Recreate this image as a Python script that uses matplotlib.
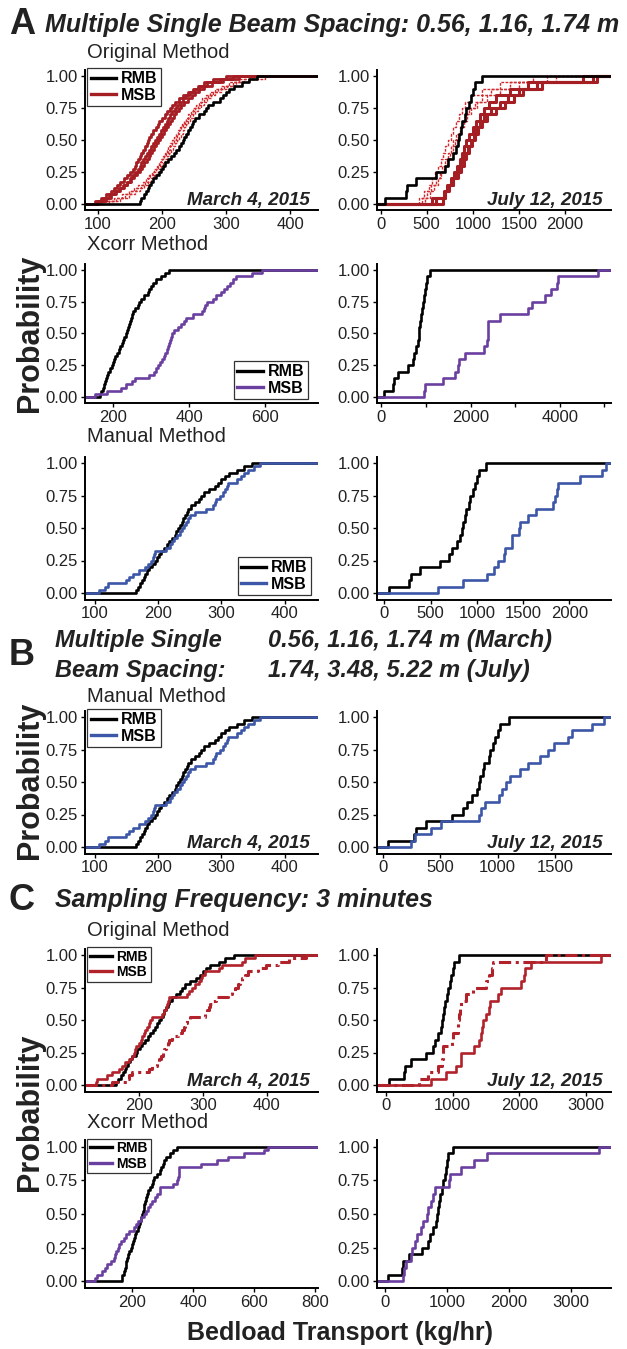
import numpy as np
import matplotlib.pyplot as plt

plt.rcParams['font.family'] = ['Liberation Sans', 'DejaVu Sans']

# ---- data ----
# reference (RMB) samples, same in every panel
rmb_march = [165, 168, 172, 175, 178, 180, 183, 186, 190, 195, 198, 202, 205, 210, 214, 218,
             222, 226, 229, 232, 235, 238, 240, 243, 246, 248, 252, 258, 265, 268, 272, 280,
             290, 295, 300, 305, 312, 325, 335, 348]
rmb_july = [50, 270, 290, 380, 600, 700, 730, 780, 820, 840, 850, 870, 880, 920, 930, 960,
            980, 1000, 1020, 1100]

# A - original method, several beam spacings
orig_march_solid = [
    [95, 105, 112, 120, 125, 130, 135, 140, 145, 150, 155, 158, 160, 163, 166, 168, 170, 173,
     176, 178, 180, 183, 186, 190, 193, 196, 200, 204, 208, 212, 216, 220, 226, 232, 240, 248,
     256, 265, 280, 300],
    [100, 112, 120, 128, 134, 140, 145, 150, 154, 158, 162, 165, 168, 171, 174, 177, 180, 183,
     186, 189, 192, 195, 198, 201, 204, 207, 210, 213, 216, 220, 224, 228, 233, 238, 244, 250,
     258, 270, 290, 320],
    [98, 108, 118, 126, 133, 139, 146, 152, 157, 161, 165, 169, 172, 176, 179, 182, 185, 188,
     191, 194, 197, 200, 203, 206, 209, 212, 215, 218, 222, 226, 230, 235, 240, 246, 252, 258,
     266, 278, 295, 310],
]
orig_march_dot = [
    [110, 125, 138, 148, 156, 163, 170, 175, 180, 184, 188, 192, 195, 198, 201, 204, 207, 210,
     213, 216, 219, 222, 225, 228, 231, 234, 237, 241, 245, 249, 253, 258, 263, 268, 274, 282,
     292, 305, 320, 340],
    [118, 135, 148, 158, 166, 172, 178, 183, 188, 192, 196, 199, 202, 205, 208, 211, 214, 217,
     220, 223, 226, 229, 232, 235, 238, 241, 244, 248, 252, 256, 260, 265, 270, 276, 283, 292,
     302, 315, 335, 360],
    [105, 128, 142, 152, 160, 167, 173, 178, 182, 186, 190, 194, 197, 200, 203, 206, 209, 212,
     215, 218, 221, 224, 227, 230, 233, 236, 240, 244, 248, 252, 256, 261, 266, 272, 279, 287,
     297, 310, 328, 350],
]
orig_july_solid = [
    [560, 700, 720, 760, 800, 830, 860, 880, 900, 930, 960, 1000, 1040, 1080, 1120, 1180, 1250,
     1400, 1600, 2200],
    [600, 690, 740, 790, 840, 870, 900, 930, 960, 990, 1020, 1060, 1100, 1150, 1250, 1350, 1450,
     1550, 1750, 2350],
    [680, 700, 730, 780, 820, 860, 890, 920, 950, 980, 1010, 1040, 1080, 1120, 1200, 1300, 1380,
     1500, 1700, 2300],
]
orig_july_dot = [
    [420, 470, 520, 560, 590, 620, 650, 680, 700, 730, 760, 790, 820, 850, 880, 920, 980, 1100,
     1300, 1650],
    [480, 530, 580, 620, 660, 690, 720, 750, 780, 810, 840, 870, 900, 940, 980, 1050, 1150, 1300,
     1500, 1900],
    [450, 500, 550, 600, 640, 670, 700, 730, 760, 790, 820, 860, 880, 910, 960, 1020, 1100, 1200,
     1400, 1800],
]

# A - xcorr method
xcorr_march = [152, 184, 221, 232, 250, 258, 295, 308, 312, 318, 322, 328, 333, 337, 341, 344,
               347, 350, 352, 355, 360, 370, 378, 385, 392, 411, 435, 440, 443, 447, 462, 470,
               483, 491, 500, 507, 515, 523, 565, 592]
xcorr_july = [950, 970, 1390, 1650, 1720, 1740, 1880, 2290, 2370, 2380, 2390, 2400, 2660, 3290,
              3370, 3680, 3800, 3940, 3960, 4850]

# A / B - manual method
manual_march = [107, 116, 121, 149, 155, 161, 170, 179, 185, 189, 192, 194, 195, 213, 219, 222,
                225, 230, 234, 238, 241, 244, 247, 250, 259, 275, 287, 290, 292, 298, 302, 305,
                308, 311, 324, 330, 336, 342, 351, 361]
manual_july = [583, 849, 1110, 1180, 1224, 1290, 1300, 1379, 1385, 1460, 1470, 1550, 1640, 1820,
               1843, 1865, 1880, 2110, 2350, 2400]
manual_july_b = [245, 280, 420, 508, 840, 858, 893, 1015, 1033, 1068, 1103, 1190, 1260, 1365,
                 1435, 1488, 1610, 1645, 1820, 1925]

# C - 3 minute sampling
c_orig_march_solid = [133, 135, 151, 158, 169, 174, 179, 184, 190, 192, 194, 196, 200, 203, 205,
                      208, 210, 213, 216, 218, 221, 236, 240, 242, 244, 245, 247, 275, 278, 283,
                      288, 294, 297, 299, 304, 325, 330, 361, 366, 382]
c_orig_march_dash = [158, 182, 184, 190, 216, 220, 228, 232, 235, 238, 240, 243, 246, 248, 252,
                     262, 268, 270, 272, 275, 280, 304, 306, 309, 311, 314, 320, 340, 345, 350,
                     355, 358, 362, 366, 371, 387, 398, 418, 435, 462]
c_orig_july_solid = [675, 900, 1050, 1125, 1130, 1325, 1400, 1425, 1445, 1450, 1500, 1550, 1555,
                     1675, 1725, 2025, 2075, 2080, 2175, 3225]
c_orig_july_dash = [500, 625, 775, 840, 850, 860, 990, 1000, 1075, 1080, 1100, 1110, 1125, 1200,
                    1300, 1500, 1550, 1590, 1600, 2400]
c_xcorr_march = [77, 85, 100, 112, 118, 130, 140, 145, 148, 152, 158, 164, 172, 180, 190, 206,
                 212, 220, 230, 239, 245, 252, 258, 265, 275, 283, 290, 292, 335, 348, 350, 352,
                 354, 355, 426, 477, 516, 568, 632, 645]
c_xcorr_july = [290, 300, 330, 419, 430, 480, 520, 581, 620, 677, 700, 740, 774, 800, 1032, 1040,
                1226, 1440, 1645, 3450]

ytick_vals = [0, 0.25, 0.5, 0.75, 1.0]
ytick_labels = ['0.00', '0.25', '0.50', '0.75', '1.00']

BLACK = '#000000'
RED_DARK = '#A51E24'
RED_LIGHT = '#D22B2E'
RED_C = '#B2222B'
PURPLE = '#6B3FA0'
BLUE = '#3C56A8'

W, H = 627, 1349
fig = plt.figure(figsize=(W / 100, H / 100), dpi=100)


def make_ax(x0, x1, ytop, ybot, xlim, xticks, minor=None):
    ax = fig.add_axes([x0 / W, 1 - ybot / H, (x1 - x0) / W, (ybot - ytop) / H])
    ax.set_xlim(xlim)
    ax.set_ylim(-0.05, 1.05)
    ax.set_xticks(xticks)
    ax.set_xticklabels([str(t) for t in xticks])
    if minor:
        ax.set_xticks(minor, minor=True)
    ax.set_yticks(ytick_vals)
    ax.set_yticklabels(ytick_labels)
    for s in ['top', 'right']:
        ax.spines[s].set_visible(False)
    for s in ['left', 'bottom']:
        ax.spines[s].set_linewidth(1.4)
    ax.tick_params(which='both', length=3, width=1, color='black', labelsize=12,
                   labelcolor='#222222', pad=2)
    return ax


def ecdf(ax, data, color, lw=1.9, ls='-', label=None):
    x = np.sort(np.asarray(data, float))
    n = len(x)
    lo, hi = ax.get_xlim()
    xs = np.concatenate([[lo], x, [hi]])
    ys = np.concatenate([[0], np.arange(1, n + 1) / n, [1]])
    ax.step(xs, ys, where='post', color=color, lw=lw, ls=ls, label=label)


def legend(ax, msb_color, loc, anchor, size=11.5):
    h = [plt.Line2D([], [], color=BLACK, lw=2.4), plt.Line2D([], [], color=msb_color, lw=2.4)]
    lg = ax.legend(h, ['RMB', 'MSB'], loc=loc, bbox_to_anchor=anchor, frameon=True,
                   fancybox=False, framealpha=1, edgecolor='#333333', handlelength=1.6,
                   handletextpad=0.3, borderpad=0.2, labelspacing=0.1, borderaxespad=0,
                   prop={'weight': 'bold', 'size': size})
    lg.get_frame().set_linewidth(0.9)


def date(ax, txt):
    ax.text(0.965, 0.07, txt, transform=ax.transAxes, ha='right', va='center',
            fontsize=13.5, fontweight='bold', style='italic', color='#222222')


def ftext(x, y, s, **kw):
    fig.text(x / W, 1 - y / H, s, va='center', **kw)


LX0, LX1, RX0, RX1 = 85, 318, 377, 611

# ---- A: original ----
ax = make_ax(LX0, LX1, 69.6, 210.4, (80, 443), [100, 200, 300, 400])
for d in orig_march_dot:
    ecdf(ax, d, RED_LIGHT, lw=1.0, ls=(0, (2, 1)))
for d in orig_march_solid:
    ecdf(ax, d, RED_DARK, lw=2.0)
ecdf(ax, rmb_march, BLACK)
legend(ax, RED_DARK, 'upper left', (0.01, 1.01))
date(ax, 'March 4, 2015')

ax = make_ax(RX0, RX1, 69.6, 210.4, (-40, 2500), [0, 500, 1000, 1500, 2000])
for d in orig_july_dot:
    ecdf(ax, d, RED_LIGHT, lw=1.0, ls=(0, (2, 1)))
for d in orig_july_solid:
    ecdf(ax, d, RED_DARK, lw=2.2)
ecdf(ax, rmb_july, BLACK)
date(ax, 'July 12, 2015')

# ---- A: xcorr ----
ax = make_ax(LX0, LX1, 263.6, 403.4, (125, 740), [200, 400, 600])
ecdf(ax, rmb_march, BLACK)
ecdf(ax, xcorr_march, PURPLE)
legend(ax, PURPLE, 'lower right', (0.955, 0.03))

ax = make_ax(RX0, RX1, 263.6, 403.4, (-100, 5150), [0, 2000, 4000], minor=[1000, 3000, 5000])
ecdf(ax, rmb_july, BLACK)
ecdf(ax, xcorr_july, PURPLE)

# ---- A: manual ----
ax = make_ax(LX0, LX1, 456.5, 599.5, (85, 452), [100, 200, 300, 400])
ecdf(ax, rmb_march, BLACK)
ecdf(ax, manual_march, BLUE)
legend(ax, BLUE, 'lower right', (0.97, 0.03))

ax = make_ax(RX0, RX1, 456.5, 599.5, (-80, 2450), [0, 500, 1000, 1500, 2000])
ecdf(ax, rmb_july, BLACK)
ecdf(ax, manual_july, BLUE)

# ---- B: manual, wider July spacing ----
ax = make_ax(LX0, LX1, 710.5, 853.5, (85, 452), [100, 200, 300, 400])
ecdf(ax, rmb_march, BLACK)
ecdf(ax, manual_march, BLUE)
legend(ax, BLUE, 'upper left', (0.01, 1.01))
date(ax, 'March 4, 2015')

ax = make_ax(RX0, RX1, 710.5, 853.5, (-50, 1985), [0, 500, 1000, 1500])
ecdf(ax, rmb_july, BLACK)
ecdf(ax, manual_july_b, BLUE)
date(ax, 'July 12, 2015')

# ---- C: original ----
ax = make_ax(LX0, LX1, 948.5, 1091.5, (116, 480), [200, 300, 400])
ecdf(ax, rmb_march, BLACK)
ecdf(ax, c_orig_march_solid, RED_C)
ecdf(ax, c_orig_march_dash, RED_C, lw=2.2, ls=(0, (4, 1.5, 1, 1.5)))
legend(ax, RED_C, 'upper left', (0.01, 1.01), size=10)
date(ax, 'March 4, 2015')

ax = make_ax(RX0, RX1, 948.5, 1091.5, (-135, 3375), [0, 1000, 2000, 3000])
ecdf(ax, rmb_july, BLACK)
ecdf(ax, c_orig_july_solid, RED_C)
ecdf(ax, c_orig_july_dash, RED_C, lw=2.2, ls=(0, (4, 1.5, 1, 1.5)))
date(ax, 'July 12, 2015')

# ---- C: xcorr ----
ax = make_ax(LX0, LX1, 1140, 1288, (45, 810), [200, 400, 600, 800])
ecdf(ax, rmb_march, BLACK)
ecdf(ax, c_xcorr_march, PURPLE)
legend(ax, PURPLE, 'upper left', (0.01, 1.01), size=10)

ax = make_ax(RX0, RX1, 1140, 1288, (-130, 3645), [0, 1000, 2000, 3000])
ecdf(ax, rmb_july, BLACK)
ecdf(ax, c_xcorr_july, PURPLE)

# ---- titles and labels ----
TXT = '#222222'
ftext(9, 25, 'A', fontsize=26, fontweight='bold', color=TXT)
ftext(45, 25, 'Multiple Single Beam Spacing: 0.56, 1.16, 1.74 m', fontsize=18,
      fontweight='bold', style='italic', color=TXT)
ftext(87, 52, 'Original Method', fontsize=14.5, color=TXT)
ftext(87, 245, 'Xcorr Method', fontsize=14.5, color=TXT)
ftext(87, 437, 'Manual Method', fontsize=14.5, color=TXT)

ftext(9, 655, 'B', fontsize=26, fontweight='bold', color=TXT)
ftext(55, 640, 'Multiple Single', fontsize=17, fontweight='bold', style='italic', color=TXT)
ftext(55, 670, 'Beam Spacing:', fontsize=17, fontweight='bold', style='italic', color=TXT)
ftext(268, 640, '0.56, 1.16, 1.74 m (March)', fontsize=17, fontweight='bold', style='italic',
      color=TXT)
ftext(268, 670, '1.74, 3.48, 5.22 m (July)', fontsize=17, fontweight='bold', style='italic',
      color=TXT)
ftext(87, 697, 'Manual Method', fontsize=14.5, color=TXT)

ftext(9, 900, 'C', fontsize=26, fontweight='bold', color=TXT)
ftext(55, 900, 'Sampling Frequency: 3 minutes', fontsize=18, fontweight='bold', style='italic',
      color=TXT)
ftext(87, 930, 'Original Method', fontsize=14.5, color=TXT)
ftext(87, 1123, 'Xcorr Method', fontsize=14.5, color=TXT)

for yc in [333, 780, 1112]:
    fig.text(30 / W, 1 - yc / H, 'Probability', rotation=90, ha='center', va='center',
             fontsize=22, fontweight='bold', color=TXT)

fig.text(340 / W, 1 - 1333 / H, 'Bedload Transport (kg/hr)', ha='center', va='center',
         fontsize=18, fontweight='bold', color=TXT)

fig.savefig('out.png', dpi=100)
